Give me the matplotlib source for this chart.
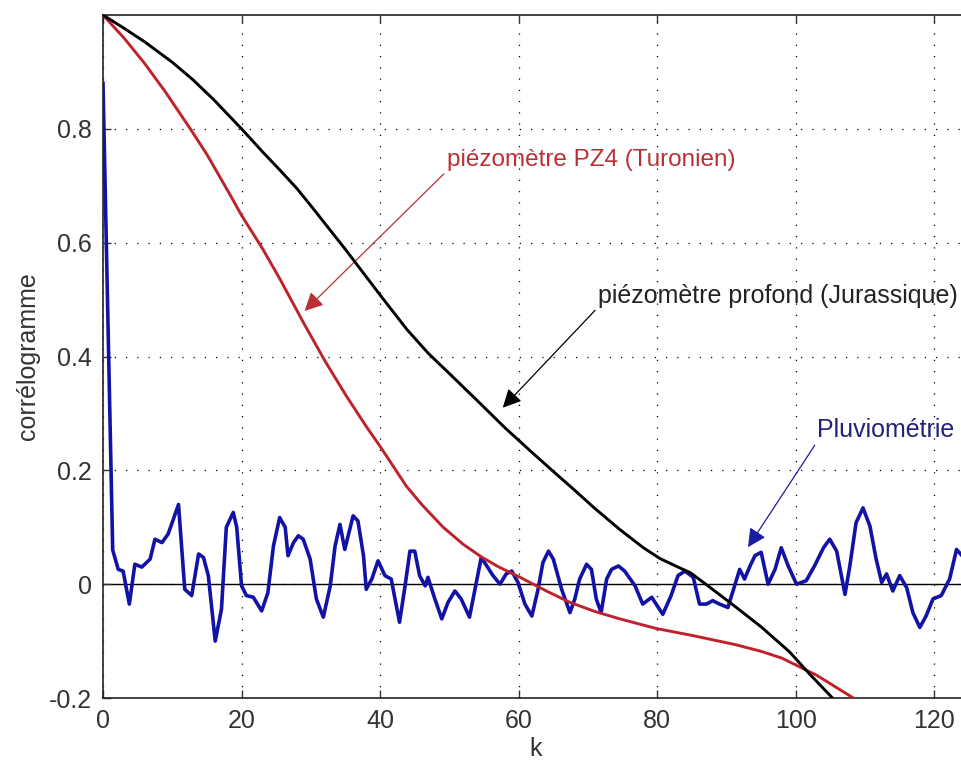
import numpy as np
import matplotlib.pyplot as plt

plt.rcParams['font.family'] = ['Liberation Sans', 'DejaVu Sans']

# correlogramme pluviometrie (sommets)
k_pluie = [0, 1.4, 2.2, 2.9, 3.8, 4.6, 5.6, 6.8, 7.5, 8.5, 9.4, 10.9, 11.8, 12.8,
           13.8, 14.5, 15.2, 16.2, 17.1, 17.8, 18.8, 19.3, 20.0, 20.7, 21.7, 22.9,
           23.8, 24.6, 25.5, 26.3, 26.7, 27.5, 28.2, 28.9, 29.9, 30.8, 31.8, 32.8,
           33.5, 34.2, 34.9, 36.1, 36.8, 37.6, 38.0, 38.8, 39.7, 40.7, 41.6, 42.8,
           43.6, 44.3, 45.0, 45.7, 46.5, 46.9, 47.9, 48.9, 49.8, 50.8, 51.7, 52.9,
           53.7, 54.6, 56.3, 57.3, 58.2, 59.0, 59.9, 60.9, 61.9, 62.8, 63.5, 64.3,
           65.0, 66.2, 67.4, 68.1, 68.8, 69.8, 70.5, 71.2, 71.9, 72.7, 73.4, 74.4,
           75.3, 76.8, 77.9, 79.2, 80.8, 82.0, 83.0, 84.0, 85.2, 86.1, 87.1, 88.0,
           89.0, 90.2, 91.4, 91.9, 92.6, 93.4, 94.1, 95.0, 96.0, 97.0, 97.9, 98.9,
           100.1, 101.5, 102.7, 104.0, 104.9, 105.9, 107.1, 107.8, 108.7, 109.7,
           110.7, 111.6, 112.4, 113.1, 114.0, 115.0, 116.0, 116.9, 117.9, 118.8,
           119.8, 121.0, 122.2, 123.2, 124.0]
r_pluie = [0.88, 0.06, 0.026, 0.023, -0.035, 0.035, 0.03, 0.044, 0.079, 0.073, 0.088,
           0.14, -0.009, -0.02, 0.053, 0.047, 0.015, -0.10, -0.044, 0.10, 0.126, 0.10,
           -0.003, -0.02, -0.023, -0.047, -0.015, 0.067, 0.117, 0.10, 0.05, 0.073,
           0.085, 0.079, 0.044, -0.026, -0.058, -0.003, 0.067, 0.105, 0.061, 0.12,
           0.111, 0.05, -0.009, 0.009, 0.041, 0.015, 0.009, -0.067, -0.003, 0.058,
           0.058, 0.015, -0.003, 0.012, -0.026, -0.061, -0.032, -0.012, -0.026,
           -0.058, -0.009, 0.047, 0.015, 0.0, 0.018, 0.023, 0.003, -0.035, -0.056,
           -0.009, 0.038, 0.058, 0.044, -0.009, -0.05, -0.026, 0.009, 0.035, 0.026,
           -0.026, -0.05, 0.009, 0.026, 0.032, 0.023, -0.003, -0.035, -0.023, -0.053,
           -0.02, 0.015, 0.023, 0.012, -0.035, -0.035, -0.029, -0.035, -0.041, 0.006,
           0.026, 0.009, 0.032, 0.05, 0.056, 0.0, 0.026, 0.064, 0.032, 0.0, 0.006,
           0.032, 0.064, 0.079, 0.058, -0.018, 0.032, 0.108, 0.134, 0.102, 0.044,
           0.003, 0.018, -0.012, 0.015, -0.006, -0.05, -0.076, -0.056, -0.026, -0.02,
           0.009, 0.061, 0.05]

# piezometre PZ4 (Turonien)
k_pz4 = [0, 3, 6, 9, 12.6, 15, 18.3, 20, 23, 25.5, 29, 32, 35, 38, 40, 43.8, 46,
         49.1, 52, 54.6, 57, 60.2, 64, 67.4, 71, 74.6, 79.9, 85, 91.2, 95, 98, 100,
         103, 105, 108.3, 110]
r_pz4 = [1.0, 0.96, 0.915, 0.865, 0.8, 0.755, 0.685, 0.648, 0.59, 0.537, 0.458,
         0.393, 0.333, 0.277, 0.242, 0.172, 0.14, 0.1, 0.07, 0.048, 0.031, 0.012,
         -0.012, -0.032, -0.048, -0.061, -0.078, -0.09, -0.106, -0.118, -0.13,
         -0.142, -0.16, -0.175, -0.2, -0.212]

# piezometre profond (Jurassique)
k_jur = [0, 3, 6, 10, 13, 16, 20, 23, 25.5, 28, 30, 35, 40, 43.9, 47, 50, 54.4,
         58, 61.6, 65, 67.9, 71, 74.6, 78, 80.4, 83, 84.8, 87, 90.9, 95, 99.1, 102,
         105.3, 107]
r_jur = [1.0, 0.977, 0.953, 0.917, 0.886, 0.851, 0.8, 0.76, 0.728, 0.695, 0.665,
         0.588, 0.508, 0.447, 0.405, 0.37, 0.318, 0.275, 0.235, 0.198, 0.167, 0.133,
         0.096, 0.064, 0.045, 0.03, 0.02, 0.0, -0.036, -0.075, -0.119, -0.158, -0.2,
         -0.22]

xticks = [0, 20, 40, 60, 80, 100, 120]
yticks = [-0.2, 0, 0.2, 0.4, 0.6, 0.8]

fig = plt.figure(figsize=(9.62, 7.64), dpi=100)
ax = fig.add_axes([103 / 962, 66 / 764, 866 / 962, 683 / 764])

ax.axhline(0, color='black', lw=1.0, zorder=1)
ax.plot(k_pluie, r_pluie, color='#1212a6', lw=2.6, zorder=2)
ax.plot(k_pz4, r_pz4, color='#c0222b', lw=2.1, zorder=3)
ax.plot(k_jur, r_jur, color='black', lw=2.1, zorder=4)

ax.set_xlim(0, 125)
ax.set_ylim(-0.2, 1.0)
ax.set_xticks(xticks)
ax.set_yticks(yticks)
ax.set_yticklabels(['-0.2', '0', '0.2', '0.4', '0.6', '0.8'])
ax.grid(True, color='black', linestyle=(0, (1, 8)), lw=0.9)
ax.tick_params(direction='in', length=6, width=1, top=True, right=True,
               labelsize=18, pad=8, colors='#333333')
for s in ax.spines.values():
    s.set_linewidth(1.2)
    s.set_color('#222222')

ax.set_xlabel('k', fontsize=18, labelpad=3, color='#333333')
ax.set_ylabel('corrélogramme', fontsize=18, labelpad=6, color='#333333')

ax.annotate('piézomètre PZ4 (Turonien)', xy=(29.1, 0.48), xytext=(49.6, 0.745),
            fontsize=17.5, color='#b83034', va='center', ha='left',
            arrowprops=dict(arrowstyle='-|>', color='#b83034', lw=0.9,
                            mutation_scale=28, shrinkA=0, shrinkB=0,
                            relpos=(0, 0)))
ax.annotate('piézomètre profond (Jurassique)', xy=(57.7, 0.31), xytext=(71.4, 0.507),
            fontsize=18, color='#222222', va='center', ha='left',
            arrowprops=dict(arrowstyle='-|>', color='black', lw=0.9,
                            mutation_scale=28, shrinkA=0, shrinkB=0,
                            relpos=(0, 0)))
ax.annotate('Pluviométrie', xy=(93.1, 0.065), xytext=(103.0, 0.27),
            fontsize=18, color='#22227a', va='center', ha='left',
            arrowprops=dict(arrowstyle='-|>', color='#1c1ca0', lw=0.9,
                            mutation_scale=28, shrinkA=0, shrinkB=0,
                            relpos=(0, 0)))

fig.savefig('out.png', dpi=100)
